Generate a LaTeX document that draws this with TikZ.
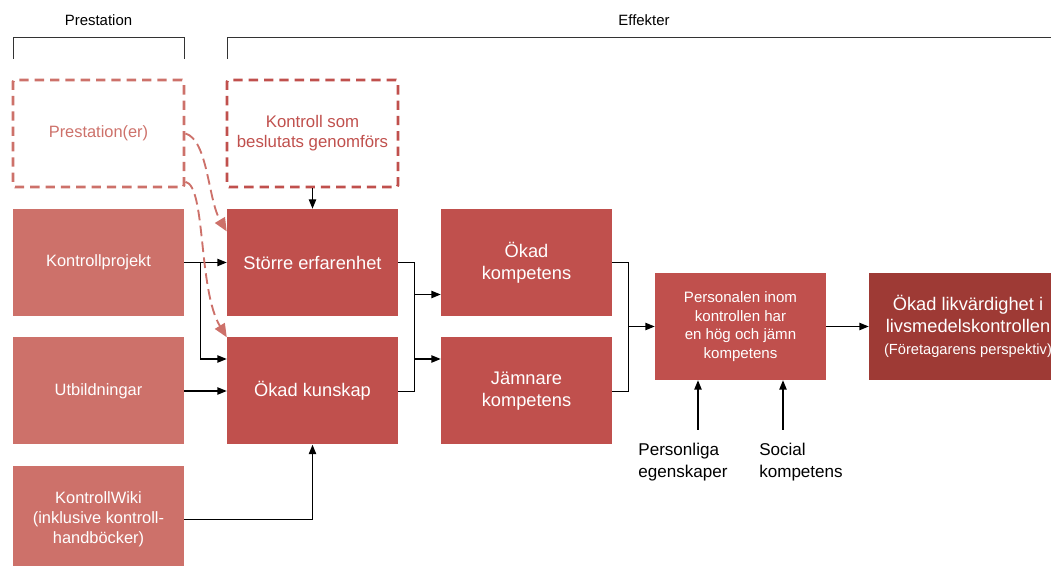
\documentclass[tikz,border=0pt]{standalone}
\usepackage{fontspec}
\setmainfont{Liberation Sans}
\usetikzlibrary{arrows.meta}
\definecolor{prestred}{RGB}{205,113,106}
\definecolor{effred}{RGB}{192,80,77}
\definecolor{darkred}{RGB}{158,58,53}
\tikzset{
  box/.style={minimum width=128.25pt, minimum height=80.25pt, inner sep=2pt, align=center, text=white},
  prestbox/.style={box, fill=prestred, font=\fontsize{12.3}{15}\selectfont},
  effbox/.style={box, fill=effred, font=\fontsize{13.7}{16.5}\selectfont},
  dashbox/.style={box, draw, line width=2.2pt, dash pattern=on 7pt off 4.5pt, rounded corners=1.5pt},
  conn/.style={line width=0.9pt, -{Triangle[length=7pt,width=5.5pt]}},
  dconn/.style={prestred, line width=1.4pt, dash pattern=on 8pt off 4pt, -{Triangle[length=10pt,width=8.5pt]}},
  brace/.style={line width=0.7pt, black!80},
  lbl/.style={font=\fontsize{11.2}{13}\selectfont}
}
\begin{document}
\begin{tikzpicture}[x=0.75pt, y=-0.75pt]
\useasboundingbox (0,0) rectangle (1051,566);
% headers
\node[lbl] (hprest) at (98.5,20) {Prestation};
\node[lbl] (heff) at (644,20) {Effekter};
\draw[brace] (13,59) |- (184,37) -- (184,59);
\draw[brace] (227,59) |- (1070,37);
% prestation column
\node[dashbox, draw=prestred, text=prestred, font=\fontsize{12.3}{15}\selectfont] (prest) at (98.5,133.5) {Prestation(er)};
\node[prestbox] (kproj) at (98.5,262.5) {Kontrollprojekt};
\node[prestbox] (utb) at (98.5,391) {Utbildningar};
\node[prestbox] (wiki) at (98.5,519.5) {KontrollWiki\\(inklusive kontroll-\\handb\"ocker)};
% effects
\node[dashbox, draw=effred, text=effred, font=\fontsize{12.6}{15}\selectfont] (kontroll) at (312.5,133.5) {Kontroll som\\beslutats genomf\"ors};
\node[effbox] (sto) at (312.5,262.5) {St\"orre erfarenhet};
\node[effbox] (okk) at (312.5,391) {\"Okad kunskap};
\node[effbox] (okomp) at (526.5,262.5) {\"Okad\\kompetens};
\node[effbox] (jamn) at (526.5,391) {J\"amnare\\kompetens};
\node[effbox, font=\fontsize{11.3}{14}\selectfont] (pers) at (740.5,326.5) {Personalen inom\\kontrollen har\\en h\"og och j\"amn\\kompetens};
\node[effbox, fill=darkred, minimum width=148.5pt] (likv) at (968,326.5) {\"Okad likv\"ardighet i\\livsmedelskontrollen\\{\fontsize{11}{13}\selectfont(F\"oretagarens perspektiv)}};
\node[align=left, font=\fontsize{12.8}{16}\selectfont] (personl) at (683,462) {Personliga\\egenskaper};
\node[align=left, font=\fontsize{12.8}{16}\selectfont] (social) at (801,462) {Social\\kompetens};
% connectors
\draw[conn] (kproj.east) -- (sto.west);
\draw[conn] (utb.east) -- (okk.west);
\coordinate (in0) at ([yshift=24pt]okk.west);
\draw[conn] (kproj.east) -- ++(16,0) |- (in0);
\draw[conn] (wiki.east) -| (okk.south);
\draw[conn] (kontroll) -- (sto);
\draw (sto.east) -- ++(16,0) coordinate (j1) |- (okk.east);
\coordinate (in1) at ([yshift=-24pt]okomp.west);
\coordinate (in2) at ([yshift=24pt]jamn.west);
\draw[conn] (j1 |- in1) -- (in1);
\draw[conn] (j1 |- in2) -- (in2);
\draw (okomp.east) -- ++(16,0) coordinate (j2) |- (jamn.east);
\draw[conn] (j2 |- pers.west) -- (pers.west);
\draw[conn] (pers) -- (likv);
\coordinate (p1) at (698,430);
\coordinate (p2) at (783,430);
\draw[conn] (p1) -- (p1 |- pers.south);
\draw[conn] (p2) -- (p2 |- pers.south);
% dashed influence
\draw[dconn] (prest.east) .. controls (208,140) and (208,200) .. ([yshift=-17pt]sto.north west);
\draw[dconn] ([yshift=5pt]prest.south east) .. controls (206,186) and (198,290) .. (okk.north west);
\end{tikzpicture}
\end{document}
